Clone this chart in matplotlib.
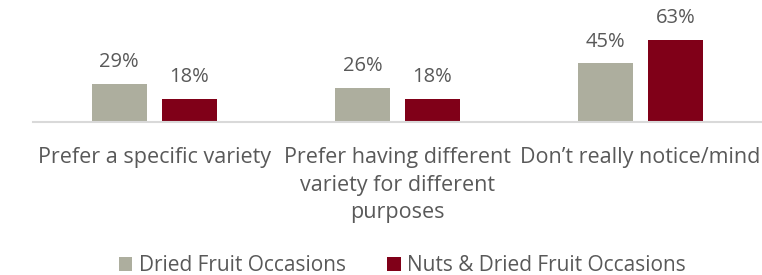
import numpy as np
import matplotlib.pyplot as plt

categories = ["Prefer a specific variety",
              "Prefer having different\nvariety for different\npurposes",
              "Don\u2019t really notice/mind"]
series_names = ["Dried Fruit Occasions", "Nuts & Dried Fruit Occasions"]
dried_fruit = [29, 26, 45]
nuts_dried_fruit = [18, 18, 63]

colors = ["#ADAE9E", "#800018"]
text_color = "#595959"

plt.rcParams['font.family'] = ['Open Sans', 'DejaVu Sans']

fig = plt.figure(figsize=(7.62, 2.75), dpi=100)
ax = fig.add_axes([0.043, 0.5564, 0.957, 0.4436])

x = np.arange(len(categories))
width = 0.226
offset = 0.144

for vals, off, col, name in [(dried_fruit, -offset, colors[0], series_names[0]),
                             (nuts_dried_fruit, offset, colors[1], series_names[1])]:
    bars = ax.bar(x + off, vals, width, color=col, label=name)
    for b, v in zip(bars, vals):
        ax.annotate(f"{v}%", (b.get_x() + b.get_width() / 2, v),
                    xytext=(0, 8.5), textcoords='offset points',
                    ha='center', va='bottom', fontsize=14.5, color=text_color)

ax.set_xlim(-0.5, 2.5)
ax.set_ylim(0, 93.8)
ax.set_yticks([])
ax.set_xticks(x)
ax.set_xticklabels(categories, fontsize=15.5, color=text_color, linespacing=1.42)
ax.tick_params(axis='x', length=0, pad=18)
for s in ['top', 'right', 'left']:
    ax.spines[s].set_visible(False)
ax.spines['bottom'].set_color('#D9D9D9')
ax.spines['bottom'].set_linewidth(1.5)

fig.legend(loc='center', bbox_to_anchor=(0.528, 0.035), ncol=2, frameon=False,
           fontsize=15, labelcolor=text_color, handlelength=0.65, handleheight=0.65,
           handletextpad=0.3, columnspacing=2.0)

fig.savefig("out.png", dpi=100)
